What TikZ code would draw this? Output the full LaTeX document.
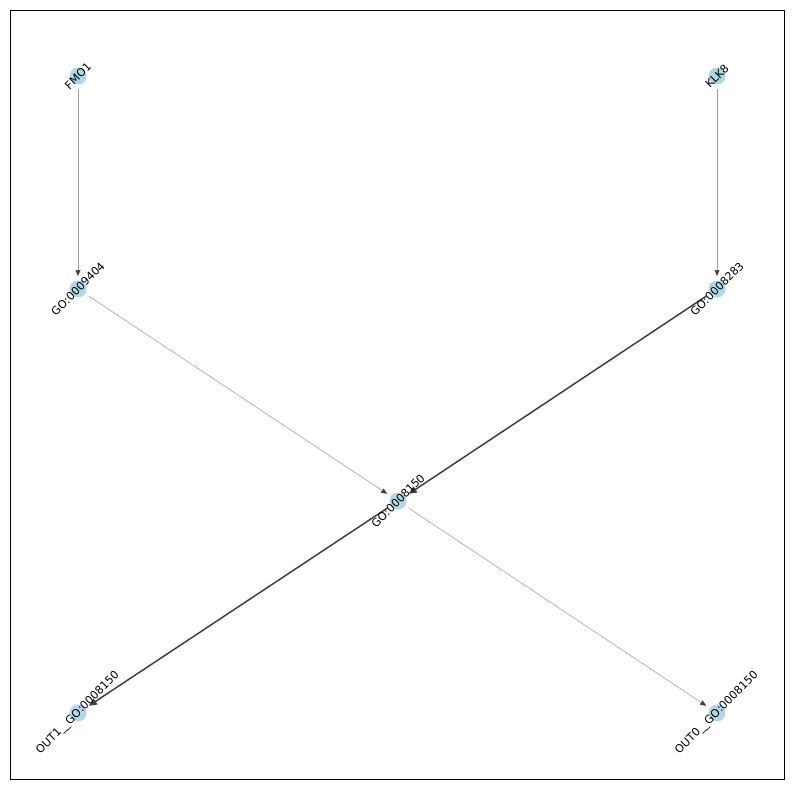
\documentclass[tikz,border=0pt]{standalone}
\usepackage{fontspec}
\setmainfont{DejaVu Sans}
\usetikzlibrary{arrows.meta}
\definecolor{nodeblue}{HTML}{ADD8E6}
\definecolor{thinedge}{HTML}{9E9E9E}
\definecolor{thickedge}{HTML}{404040}
\tikzset{
  gonode/.style={circle,fill=nodeblue,minimum size=17pt,inner sep=0pt},
  golabel/.style={rotate=45,inner sep=0pt,font=\fontsize{11.1}{13}\selectfont},
  thinarrow/.style={draw=thinedge,line width=0.55pt,-{Triangle[length=6pt,width=5pt,color=thickedge]},shorten >=13pt,shorten <=13pt},
  thickarrow/.style={draw=thickedge,line width=1.5pt,-{Triangle[length=8pt,width=7pt]},shorten >=13pt,shorten <=13pt},
}
\begin{document}
\begin{tikzpicture}[x=1pt,y=-1pt]
\useasboundingbox (0,0) rectangle (794,790);
\draw[line width=1pt] (10.5,10.5) rectangle (784,779);
\node[gonode] (fmo) at (78,76) {};
\node[gonode] (klk) at (717,76) {};
\node[gonode] (g9404) at (78,289) {};
\node[gonode] (g8283) at (717,289) {};
\node[gonode] (g8150) at (398,501) {};
\node[gonode] (out1) at (78,713) {};
\node[gonode] (out0) at (717,713) {};
\draw[thinarrow] (fmo.center) -- (g9404.center);
\draw[thinarrow] (klk.center) -- (g8283.center);
\draw[thinarrow] (g9404.center) -- (g8150.center);
\draw[thickarrow] (g8283.center) -- (g8150.center);
\draw[thickarrow] (g8150.center) -- (out1.center);
\draw[thinarrow] (g8150.center) -- (out0.center);
\node[golabel] (lfmo) at (fmo.center) {FMO1};
\node[golabel] (lklk) at (klk.center) {KLK8};
\node[golabel] (l9404) at (g9404.center) {GO:0009404};
\node[golabel] (l8283) at (g8283.center) {GO:0008283};
\node[golabel] (l8150) at (g8150.center) {GO:0008150};
\node[golabel] (lout1) at (out1.center) {OUT1\_\_GO:0008150};
\node[golabel] (lout0) at (out0.center) {OUT0\_\_GO:0008150};
\end{tikzpicture}
\end{document}
